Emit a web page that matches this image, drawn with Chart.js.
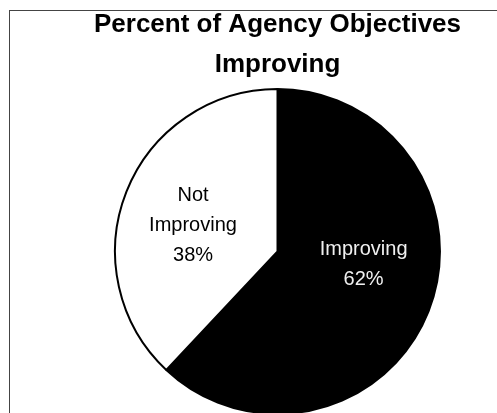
<!DOCTYPE html>
<html>
<head>
<meta charset="utf-8">
<script src="https://cdn.jsdelivr.net/npm/chart.js@4"></script>
<style>
  html, body { margin: 0; padding: 0; background: #fff; overflow: hidden; }
  #frame { position: absolute; left: 9px; top: 10px; width: 600px; height: 600px;
           border-top: 1px solid #444; border-left: 1px solid #444; }
  #wrap { position: absolute; left: 0; top: 0; width: 497px; height: 415px; }
</style>
</head>
<body>
<div id="frame"></div>
<div id="wrap"><canvas id="pie_chart"></canvas></div>
<script>
const title_lines = ['Percent of Agency Objectives', 'Improving'];
const categories = ['Improving', 'Not Improving'];
const percents = [62, 38];
const slice_colors = ['#000000', '#ffffff'];
const label_colors = ['#f0f0f0', '#000000'];
// where each label sits, in units of the pie radius from its centre
const label_spots = [[0.53, 0.08], [-0.52, -0.16]];

const slice_labels = {
    id: 'slice_labels',
    afterDatasetsDraw(chart) {
        const ctx = chart.ctx;
        const arcs = chart.getDatasetMeta(0).data;
        ctx.save();
        ctx.font = '20px "Liberation Sans", Arial, sans-serif';
        ctx.textAlign = 'center';
        ctx.textBaseline = 'middle';
        arcs.forEach((arc, i) => {
            const r = arc.outerRadius;
            const cx = arc.x + label_spots[i][0] * r;
            const cy = arc.y + label_spots[i][1] * r;
            const words = categories[i].split(' ');
            const lines = words.length > 1 ? words : [categories[i]];
            lines.push(percents[i] + '%');
            const lh = 30;
            const top = cy - (lines.length - 1) * lh / 2;
            ctx.fillStyle = label_colors[i];
            lines.forEach((t, j) => ctx.fillText(t, cx, top + j * lh));
        });
        ctx.restore();
    }
};

const ctx = document.getElementById('pie_chart').getContext('2d');
new Chart(ctx, {
    type: 'pie',
    data: {
        labels: categories,
        datasets: [{
            data: percents,
            backgroundColor: slice_colors,
            borderColor: '#000000',
            borderWidth: 2
        }]
    },
    options: {
        responsive: true,
        maintainAspectRatio: false,
        animation: false,
        layout: { padding: { left: 58, right: 0, top: 0, bottom: 0 } },
        plugins: {
            legend: { display: false },
            tooltip: { enabled: false },
            title: {
                display: true,
                text: title_lines,
                color: '#000000',
                font: { family: '"Liberation Sans", Arial, sans-serif', size: 26, weight: 'bold', lineHeight: 1.54 },
                padding: { top: 5, bottom: 3 }
            }
        }
    },
    plugins: [slice_labels]
});
</script>
</body>
</html>
